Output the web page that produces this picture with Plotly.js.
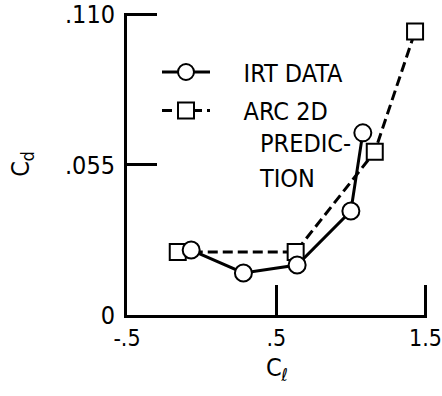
<!DOCTYPE html>
<html>
<head>
<meta charset="utf-8">
<script src="https://cdn.plot.ly/plotly-3.0.1.min.js"></script>
<style>html,body{margin:0;padding:0;background:#fff;}#chart{width:442px;height:396px;}</style>
</head>
<body>
<div id="chart"></div>
<script>
// IRT data (circles, solid line)
const clIRT = [-0.07, 0.28, 0.64, 1.00, 1.08];
const cdIRT = [0.0238, 0.0154, 0.0183, 0.0381, 0.0667];
// ARC 2D prediction (squares, dashed line)
const clARC = [-0.16, 0.63, 1.16, 1.43];
const cdARC = [0.0231, 0.0231, 0.0598, 0.1038];
// tick values and labels
const xTickVals = [-0.5, 0.5, 1.5];
const xTickText = ['-.5', '.5', '1.5'];
const yTickVals = [0, 0.055, 0.110];
const yTickText = ['0', '.055', '.110'];
const seriesNames = ['IRT DATA', 'ARC 2D'];

const FONT = 'DejaVu Sans Condensed, Liberation Sans Narrow, sans-serif';
const PAD = '\u00a0\u00a0\u00a0\u00a0';

const traces = [
  {
    x: clARC, y: cdARC, name: PAD + seriesNames[1], legendgroup: 'b', legendrank: 2,
    mode: 'lines+markers', type: 'scatter', cliponaxis: false,
    line: {color: '#000', width: 3, dash: '10px,5px'},
    marker: {symbol: 'square', size: 16, color: '#fff', line: {color: '#000', width: 2}}
  },
  {
    x: clIRT, y: cdIRT, name: PAD + seriesNames[0], legendgroup: 'a', legendrank: 1,
    mode: 'lines+markers', type: 'scatter', cliponaxis: false,
    line: {color: '#000', width: 3},
    marker: {symbol: 'circle', size: 17, color: '#fff', line: {color: '#000', width: 2}}
  }
];

const layout = {
  width: 442, height: 396,
  margin: {l: 127, r: 15, t: 13, b: 81},
  paper_bgcolor: '#fff', plot_bgcolor: '#fff',
  font: {family: FONT, color: '#000', size: 25},
  showlegend: true,
  legend: {
    x: 0.10, xanchor: 'left', y: 0.88, yanchor: 'top',
    bgcolor: 'rgba(0,0,0,0)', borderwidth: 0,
    font: {family: FONT, size: 25, color: '#000'},
    itemwidth: 48, traceorder: 'grouped', tracegroupgap: 3
  },
  xaxis: {
    range: [-0.5, 1.51], showgrid: false, zeroline: false,
    showline: true, linecolor: '#000', linewidth: 3,
    ticks: 'inside', ticklen: 30, tickwidth: 3, tickcolor: '#000',
    tickmode: 'array', tickvals: xTickVals, ticktext: xTickText,
    tickfont: {family: FONT, size: 23}, ticklabelstandoff: 0,
    title: {text: 'C<sub>ℓ</sub>', font: {family: FONT, size: 25}, standoff: 9}
  },
  yaxis: {
    range: [0, 0.1106], showgrid: false, zeroline: false,
    showline: true, linecolor: '#000', linewidth: 3,
    ticks: 'inside', ticklen: 30, tickwidth: 3, tickcolor: '#000',
    tickmode: 'array', tickvals: yTickVals, ticktext: yTickText,
    tickfont: {family: FONT, size: 25}, ticklabelstandoff: 4,
    title: {text: 'C<sub>d</sub>', font: {family: FONT, size: 25}, standoff: 29}
  },
  annotations: [
    {xref: 'paper', yref: 'paper', x: 0.435, y: 0.568, xanchor: 'left', yanchor: 'middle',
     text: 'PREDIC-', showarrow: false, font: {family: FONT, size: 25}},
    {xref: 'paper', yref: 'paper', x: 0.432, y: 0.452, xanchor: 'left', yanchor: 'middle',
     text: 'TION', showarrow: false, font: {family: FONT, size: 25}}
  ]
};

Plotly.newPlot('chart', traces, layout, {staticPlot: true, displayModeBar: false});
</script>
</body>
</html>
